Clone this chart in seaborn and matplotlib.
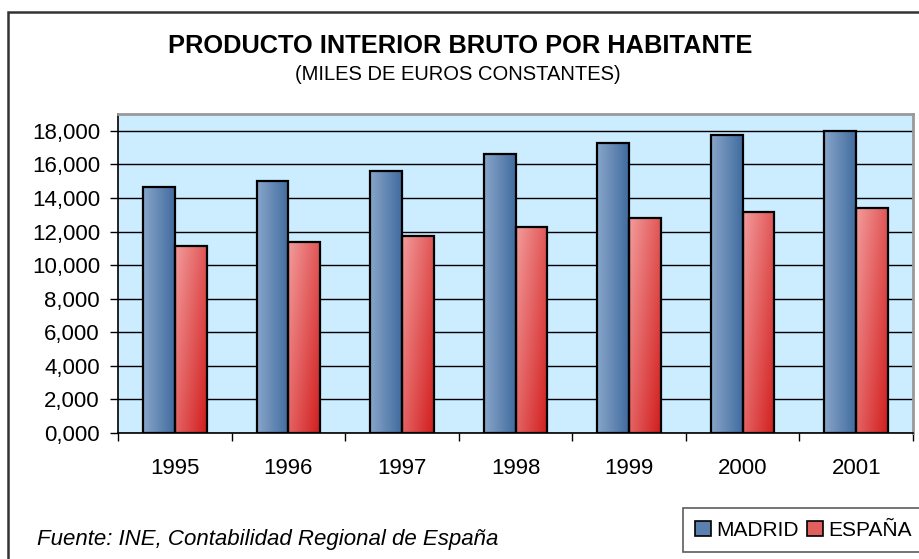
import numpy as np
import pandas as pd
import matplotlib
matplotlib.use("Agg")
import matplotlib.pyplot as plt
import seaborn as sns
from matplotlib.colors import to_rgb
from matplotlib.patches import Patch, Rectangle
from matplotlib.ticker import FuncFormatter, MultipleLocator

# PIB por habitante, miles de euros constantes
years = ["1995", "1996", "1997", "1998", "1999", "2000", "2001"]
madrid = [14.64, 15.02, 15.63, 16.63, 17.26, 17.76, 18.00]
espana = [11.16, 11.40, 11.76, 12.28, 12.79, 13.15, 13.39]
regions = ["MADRID", "ESPAÑA"]

TITLE = "PRODUCTO INTERIOR BRUTO POR HABITANTE"
SUBTITLE = "(MILES DE EUROS CONSTANTES)"
SOURCE = "Fuente: INE, Contabilidad Regional de España"

df = pd.DataFrame({
    "year": years * 2,
    "value": madrid + espana,
    "region": [regions[0]] * len(years) + [regions[1]] * len(years),
})

sns.set_style("white")
plt.rcParams["font.family"] = ["Liberation Sans", "DejaVu Sans"]
plt.rcParams["text.color"] = "black"
plt.rcParams["xtick.labelcolor"] = "black"
plt.rcParams["ytick.labelcolor"] = "black"

fig = plt.figure(figsize=(9.2, 5.59), dpi=100)
ax = fig.add_axes([118 / 920, 126 / 559, 795 / 920, 319 / 559])
ax.set_facecolor("#CCECFF")

sns.barplot(data=df, x="year", y="value", hue="region", hue_order=regions,
            palette=["#5C80AE", "#E06666"], width=0.56, legend=False,
            edgecolor="black", linewidth=1.6, ax=ax)

# gradient fill clipped to each bar
grad_cols = {
    0: ("#88A5C9", "#416C9F", False),
    1: ("#F39C9C", "#D21E1E", True),
}
gx = np.linspace(0, 1, 60)
gy = np.linspace(0, 1, 60)
GX, GY = np.meshgrid(gx, gy)
for ci, cont in enumerate(ax.containers):
    light, dark, vert = grad_cols[ci]
    l, d = np.array(to_rgb(light)), np.array(to_rgb(dark))
    if vert:
        t = 0.55 * GX + 0.45 * GY  # GY=1 at bottom (origin upper)
    else:
        t = GX + 0 * GY
    img = l[None, None, :] * (1 - t[..., None]) + d[None, None, :] * t[..., None]
    for bar in cont:
        x0, y0 = bar.get_x(), bar.get_y()
        w, h = bar.get_width(), bar.get_height()
        bar.set_facecolor("none")
        bar.set_zorder(3)
        im = ax.imshow(img, extent=[x0, x0 + w, y0, y0 + h], aspect="auto",
                       origin="upper", zorder=2.5, interpolation="bilinear")
        im.set_clip_path(bar)

ax.set_ylim(0, 19)
ax.set_xlim(-0.5, len(years) - 0.5)

# gridlines
ax.yaxis.set_major_locator(MultipleLocator(2))
ax.set_axisbelow(True)
ax.grid(axis="y", color="black", linewidth=1.0)
ax.grid(axis="x", visible=False)
ax.yaxis.set_major_formatter(FuncFormatter(lambda v, p: f"{v:.3f}".replace(".", ",")))

# ticks: x marks between categories
ax.set_xticks(np.arange(-0.5, len(years), 1.0), minor=True)
ax.tick_params(axis="x", which="minor", length=6, width=1, color="black",
               direction="out", bottom=True)
ax.tick_params(axis="x", which="major", length=0, pad=18, labelsize=16,
               labelcolor="black")
ax.tick_params(axis="y", which="major", length=6, width=1, color="black",
               direction="out", left=True, pad=7, labelsize=16, labelcolor="black")
ax.set_xlabel("")
ax.set_ylabel("")

for s in ["left", "bottom"]:
    ax.spines[s].set_color("black")
    ax.spines[s].set_linewidth(1.2)
for s in ["top", "right"]:
    ax.spines[s].set_visible(True)
    ax.spines[s].set_color("#999999")
    ax.spines[s].set_linewidth(2)

# titles
fig.text(460 / 920, 1 - 46 / 559, TITLE, ha="center", va="center",
         fontsize=18.3, fontweight="bold", color="black")
fig.text(458 / 920, 1 - 74 / 559, SUBTITLE, ha="center", va="center",
         fontsize=14.5, color="black",
         family=["Liberation Sans Narrow", "Liberation Sans"])
fig.text(37 / 920, 1 - 539 / 559, SOURCE, ha="left", va="center",
         fontsize=16, style="italic", color="black")

# legend
handles = [Patch(facecolor="#5C80AE", edgecolor="black", linewidth=1.2),
           Patch(facecolor="#E06060", edgecolor="black", linewidth=1.2)]
leg = fig.legend(handles, regions, loc="upper left",
                 bbox_to_anchor=(683 / 920, 1 - 508 / 559), ncol=2,
                 frameon=True, fancybox=False, labelcolor="black",
                 handlelength=0.75, handleheight=0.75, handletextpad=0.25,
                 columnspacing=0.4, borderpad=0.6, borderaxespad=0,
                 prop={"family": ["Liberation Sans Narrow", "Liberation Sans"], "size": 15})
leg.get_frame().set_edgecolor("#333333")
leg.get_frame().set_linewidth(1.2)

# outer frame
fig.patches.append(Rectangle((8 / 920, -0.02), 1.1, 1 - 12 / 559 + 0.02,
                             transform=fig.transFigure, fill=False,
                             edgecolor="#333333", linewidth=1.8))

fig.savefig("out.png", dpi=100)
